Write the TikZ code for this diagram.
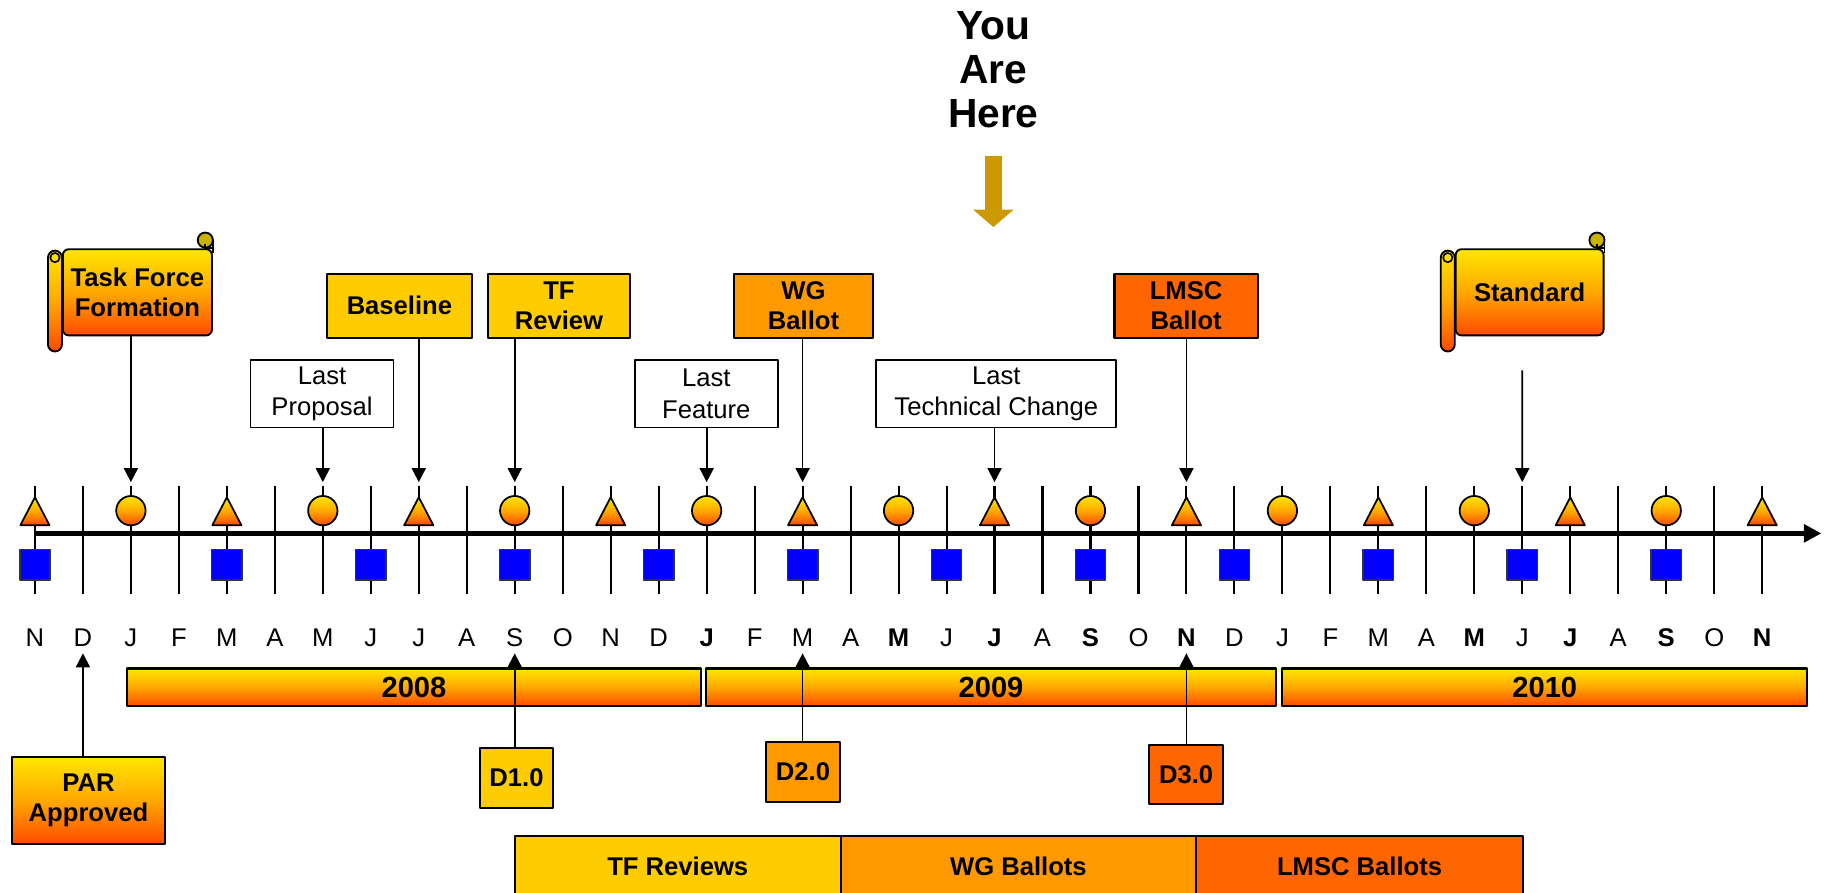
\documentclass[tikz,border=0pt]{standalone}
\usepackage{fontspec}
\setmainfont{Liberation Sans}
\usetikzlibrary{positioning,calc,arrows.meta}

\definecolor{gtop}{HTML}{FFE600}
\definecolor{gmid}{HTML}{FFA800}
\definecolor{gbot}{HTML}{FF4A00}
\definecolor{tfyel}{HTML}{FFCC00}
\definecolor{wgorg}{HTML}{FF9900}
\definecolor{lmscred}{HTML}{FF6600}
\definecolor{sqblue}{HTML}{0000FF}
\definecolor{herecol}{HTML}{CC9900}
\definecolor{curlcol}{HTML}{C8B400}

\newcommand\bfl{\fontsize{22}{26}\selectfont\bfseries}
\newcommand\rgl{\fontsize{22}{27}\selectfont}

\tikzset{
  grad/.style={top color=gtop,bottom color=gbot,middle color=gmid},
  mtick/.style={line width=1.8pt},
  timeaxis/.style={line width=4.3pt,-{Triangle[length=15pt,width=15pt]}},
  tri/.style={grad,draw,line width=1.5pt},
  disc/.style={grad,draw,line width=1.5pt},
  sq/.style={fill=sqblue,draw=black!80,line width=1.3pt},
  month/.style={font=\fontsize{22}{26}\selectfont,inner sep=0pt},
  linkarr/.style={line width=1.5pt,-{Triangle[length=12pt,width=12pt]}},
  msbox/.style={draw,line width=1.8pt,font=\bfl,align=center,inner sep=0pt,minimum height=55pt},
  lastbox/.style={draw,fill=white,line width=1.5pt,font=\rgl,align=center,inner sep=0pt,minimum height=58pt},
  scrollbody/.style={grad,draw,line width=1.6pt,rounded corners=5pt,font=\bfl,align=center,inner sep=0pt,minimum width=128pt,minimum height=74pt},
  yearbar/.style={grad,draw,line width=1.8pt,font=\fontsize{25}{30}\selectfont\bfseries,inner sep=0pt,minimum height=32pt,outer sep=0pt},
  draftbox/.style={draw,line width=1.8pt,font=\bfl,inner sep=0pt,minimum width=63pt,minimum height=51pt},
  phasebox/.style={draw,line width=1.8pt,font=\bfl,inner sep=0pt,minimum height=52pt,outer sep=0pt}
}

% rolled ends of a scroll node
\newcommand\rollup[1]{
  \draw[grad,line width=1.6pt,rounded corners=6pt] ($(#1.north west)+(-12,2)$) rectangle ($(#1.south west)+(0,13)$);
  \draw[line width=1.4pt] ($(#1.north west)+(-6,8)$) circle (4);
  \draw[line width=1.6pt] ($(#1.north east)+(0,4)$) -- ++(0,-11);
  \filldraw[fill=curlcol,line width=1.6pt] ($(#1.north east)+(-6.5,-7)$) circle (6.5);
  \draw[line width=1.4pt] ($(#1.north east)+(-6.5,-4)$) -- ++(0,4) -- ++(6.5,0);
}

\begin{document}
\begin{tikzpicture}[x=1pt,y=-1pt,line join=round]
\useasboundingbox (0,0) rectangle (1568,766);
\def\mx{30}
\def\mw{41.2}

% months, ticks
\foreach \l [count=\i from 0] in {N,D,J,F,M,A,M,J,J,A,S,O,N,D,\textbf{J},F,M,A,\textbf{M},J,\textbf{J},A,\textbf{S},O,\textbf{N},D,J,F,M,A,\textbf{M},J,\textbf{J},A,\textbf{S},O,\textbf{N}}{
  \draw[mtick] ({\mx+\mw*\i},417) -- ++(0,93);
  \coordinate (t\i) at ({\mx+\mw*\i},414);
  \coordinate (u\i) at ({\mx+\mw*\i},561);
  \node[month] (m\i) at ({\mx+\mw*\i},548) {\l};
}
\coordinate (axs) at (\mx,458);
\coordinate (axe) at (1564,458);
\draw[timeaxis] (axs) -- (axe);

\foreach \i in {0,4,...,36}
  \draw[tri] ({\mx+\mw*\i-12.5},451) -- ++(12.5,-24) -- ++(12.5,24) -- cycle;
\foreach \i in {2,6,...,34}
  \draw[disc] ({\mx+\mw*\i},438.5) circle (12.6);
\foreach \i in {0,4,7,10,13,16,19,22,25,28,31,34}
  \draw[sq] ({\mx+\mw*\i-13},472) rectangle ++(26,26);

% you are here
\node[font=\fontsize{35}{38}\selectfont\bfseries,align=center,inner sep=0pt] (here) at (853,60) {You\\Are\\Here};
\coordinate (ha) at (853,134);
\coordinate (hb) at (853,195);
\draw[herecol,line width=14pt,-{Triangle[length=15pt,width=34pt]}] (ha) -- (hb);

% milestones above the axis
\node[scrollbody] (tff) at (118,251) {Task Force\\Formation};
\rollup{tff}
\node[scrollbody,minimum width=127pt] (std) at (1313.5,251) {Standard};
\rollup{std}
\node[msbox,fill=tfyel,minimum width=124pt] (base) at (343,262.5) {Baseline};
\node[msbox,fill=tfyel,minimum width=122pt] (tfrev) at (480,262.5) {TF\\Review};
\node[msbox,fill=wgorg,minimum width=120pt] (wgb) at (690,262.5) {WG\\Ballot};
\node[msbox,fill=lmscred,minimum width=123pt] (lmscb) at (1018.5,262.5) {LMSC\\Ballot};
\node[lastbox,minimum width=123pt] (lprop) at (276.5,338) {Last\\Proposal};
\node[lastbox,minimum width=123pt] (lfeat) at (606.5,338) {Last\\Feature};
\node[lastbox,minimum width=206pt] (ltech) at (855.5,338) {Last\\Technical Change};
\coordinate (stdtail) at (1307.2,318);

\draw[linkarr] (tff.south -| t2) -- (t2);
\draw[linkarr] (lprop.south -| t6) -- (t6);
\draw[linkarr] (base.south -| t8) -- (t8);
\draw[linkarr] (tfrev.south -| t10) -- (t10);
\draw[linkarr] (lfeat.south -| t14) -- (t14);
\draw[linkarr] (wgb.south -| t16) -- (t16);
\draw[linkarr] (ltech.south -| t20) -- (t20);
\draw[linkarr] (lmscb.south -| t24) -- (t24);
\draw[linkarr] (stdtail) -- (t31);

% years
\node[yearbar,minimum width=493pt] (y2008) at (355.5,590) {2008};
\node[yearbar,minimum width=490pt,right=4pt of y2008] (y2009) {2009};
\node[yearbar,minimum width=451pt,right=5pt of y2009] (y2010) {2010};

% drafts
\node[draftbox,grad,minimum width=131pt,minimum height=75pt,align=center] (par) at (76,687.5) {PAR\\Approved};
\node[draftbox,fill=tfyel] (d1) at (443.5,668) {D1.0};
\node[draftbox,fill=wgorg] (d2) at (689.5,663) {D2.0};
\node[draftbox,fill=lmscred] (d3) at (1018.5,665) {D3.0};
\draw[linkarr] (par.north -| u1) -- (u1);
\draw[linkarr] (d1.north -| u10) -- (u10);
\draw[linkarr] (d2.north -| u16) -- (u16);
\draw[linkarr] (d3.north -| u24) -- (u24);

% phases
\node[phasebox,fill=tfyel,minimum width=280pt] (tfr) at (582,744) {TF Reviews};
\node[phasebox,fill=wgorg,minimum width=305pt,right=0pt of tfr] (wgbs) {WG Ballots};
\node[phasebox,fill=lmscred,minimum width=281pt,right=0pt of wgbs] (lmscbs) {LMSC Ballots};

\end{tikzpicture}
\end{document}
